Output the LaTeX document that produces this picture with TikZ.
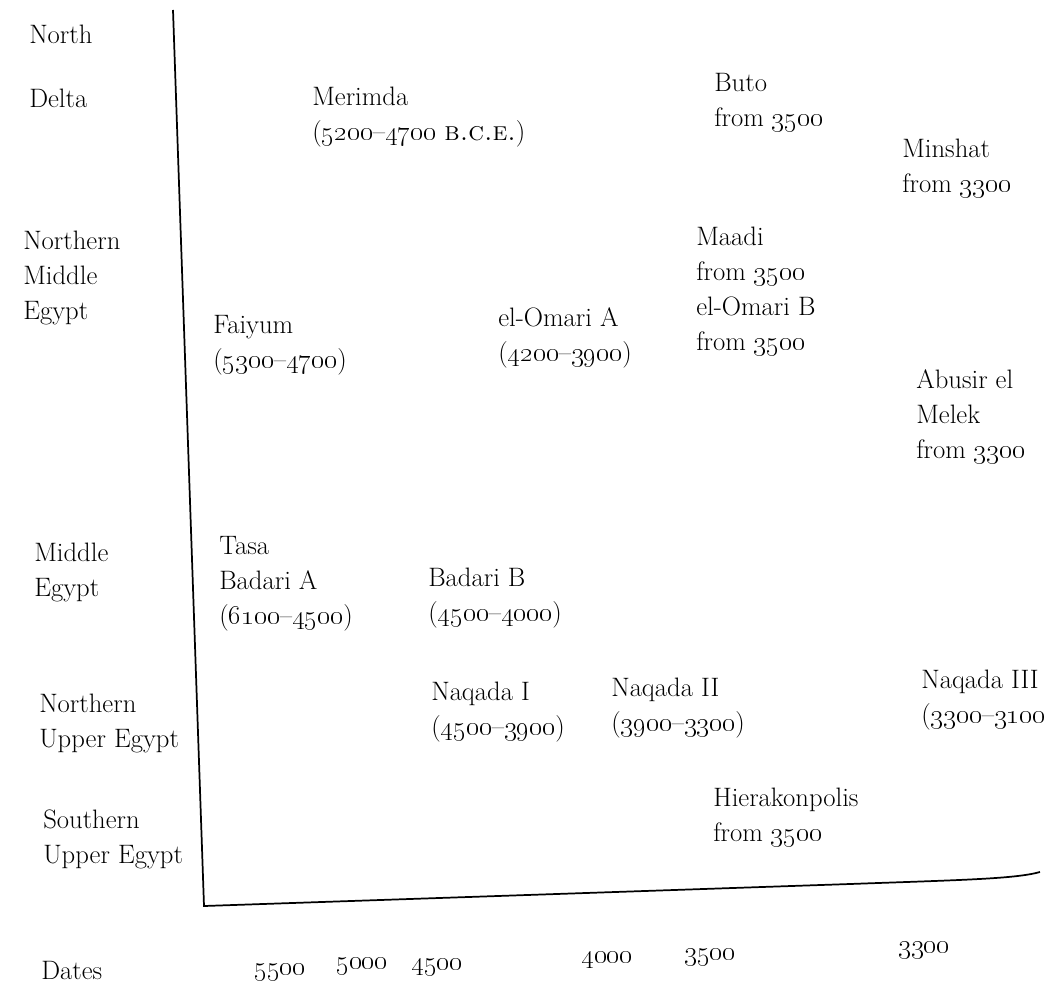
\documentclass[tikz,border=0pt]{standalone}
\usepackage{tikz}

\newcommand{\yr}[1]{\oldstylenums{#1}}

\begin{document}
\begin{tikzpicture}[x=0.75pt,y=0.75pt,yscale=-1,xscale=1,
    lbl/.style={anchor=north west,inner sep=0.75pt,align=left,font=\fontsize{20}{26.25}\selectfont},
    axis/.style={line width=1.3pt}]
    \useasboundingbox (0,0) rectangle (1048,988);

    % Axes
    \coordinate (top) at (173,10);
    \coordinate (origin) at (204,906);
    \coordinate (mid) at (850,884);
    \coordinate (right) at (1040,872);
    \draw [axis] (top) -- (origin) -- (mid) .. controls (960,880) and (1015,879) .. (right);

    % Region labels
    \node [lbl] (north) at (28,24) {North};
    \node [lbl] (delta) at (28,88) {Delta};
    \node [lbl] (nme) at (22,230) {Northern\\Middle\\Egypt};
    \node [lbl] (me) at (33,542) {Middle\\Egypt};
    \node [lbl] (nue) at (38,693) {Northern\\Upper Egypt};
    \node [lbl] (sue) at (42,809) {Southern\\Upper Egypt};

    % Sites
    \node [lbl] (merimda) at (311,86) {Merimda\\(\yr{5200}--\yr{4700} \textsc{b.c.e.})};
    \node [lbl] (buto) at (713,72) {Buto\\from \yr{3500}};
    \node [lbl] (minshat) at (901,138) {Minshat\\from \yr{3300}};
    \node [lbl] (maadi) at (695,226) {Maadi\\from \yr{3500}\\el-Omari B\\from \yr{3500}};
    \node [lbl] (faiyum) at (212,314) {Faiyum\\(\yr{5300}--\yr{4700})};
    \node [lbl] (omaria) at (497,306) {el-Omari A\\(\yr{4200}--\yr{3900})};
    \node [lbl] (abusir) at (915,368) {Abusir el\\Melek\\from \yr{3300}};
    \node [lbl] (tasa) at (218,535) {Tasa\\Badari A\\(\yr{6100}--\yr{4500})};
    \node [lbl] (badarib) at (427,567) {Badari B\\(\yr{4500}--\yr{4000})};
    \node [lbl] (naqadai) at (430,681) {Naqada I\\(\yr{4500}--\yr{3900})};
    \node [lbl] (naqadaii) at (610,677) {Naqada II\\(\yr{3900}--\yr{3300})};
    \node [lbl] (naqadaiii) at (920,669) {Naqada III\\(\yr{3300}--\yr{3100}};
    \node [lbl] (hierakon) at (712,787) {Hierakonpolis\\from \yr{3500}};

    % Dates
    \node [lbl] (dates) at (40,960) {Dates};
    \node [lbl] (d5500) at (253,962) {\yr{5500}};
    \node [lbl] (d5000) at (335,956) {\yr{5000}};
    \node [lbl] (d4500) at (410,957) {\yr{4500}};
    \node [lbl] (d4000) at (580,950) {\yr{4000}};
    \node [lbl] (d3500) at (683,947) {\yr{3500}};
    \node [lbl] (d3300) at (897,940) {\yr{3300}};

\end{tikzpicture}
\end{document}
